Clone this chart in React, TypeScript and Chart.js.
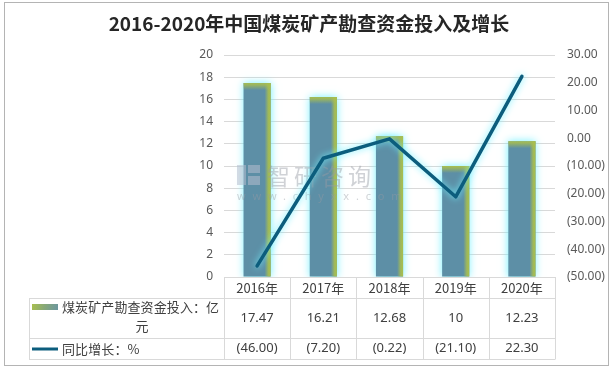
import React, { useEffect, useRef } from "react";
import { Chart, registerables } from "chart.js";
Chart.register(...registerables);

const title = "2016-2020年中国煤炭矿产勘查资金投入及增长";
const categories = ["2016年", "2017年", "2018年", "2019年", "2020年"];
const investment = [17.47, 16.21, 12.68, 10, 12.23];
const growth = [-46.0, -7.2, -0.22, -21.1, 22.3];
const investmentLabels = ["17.47", "16.21", "12.68", "10", "12.23"];
const growthLabels = ["(46.00)", "(7.20)", "(0.22)", "(21.10)", "22.30"];
const seriesNames = ["煤炭矿产勘查资金投入：亿元", "同比增长：%"];
const watermark = "智研咨询";
const watermarkUrl = "www.chyxx.com";

const BAR_COLOR = "#5d8fa6";
const GREEN = "169,191,78";
const LINE_COLOR = "#0c5d7d";
const GRID = "#d9d9d9";
const TEXT = "#404040";
const CJK = "'Noto Sans CJK SC', 'Noto Sans', sans-serif";
const NUM = "'Noto Sans', 'Open Sans', sans-serif";

const fmtGrowth = (v: number) =>
  v < 0 ? `(${Math.abs(v).toFixed(2)})` : v.toFixed(2);

const drawWatermark = (ctx: CanvasRenderingContext2D) => {
  ctx.save();
  ctx.fillStyle = "rgba(180,190,205,0.55)";
  ctx.fillRect(237, 165, 9, 20);
  ctx.fillRect(248, 165, 12, 8);
  ctx.fillRect(248, 176, 12, 9);
  ctx.font = `23px ${CJK}`;
  ctx.textAlign = "left";
  ctx.textBaseline = "middle";
  ctx.fillStyle = "rgba(150,155,165,0.45)";
  (ctx as any).letterSpacing = "4px";
  ctx.fillText(watermark, 267, 176);
  ctx.font = `11px ${NUM}`;
  (ctx as any).letterSpacing = "6.8px";
  ctx.fillText(watermarkUrl, 237, 197);
  (ctx as any).letterSpacing = "0px";
  ctx.restore();
};

const customPlugin = {
  id: "custom",
  beforeDatasetDraw(chart: any, args: any) {
    const ctx = chart.ctx;
    ctx.save();
    ctx.shadowColor = "rgba(110,240,255,0.95)";
    ctx.shadowBlur = args.meta.type === "bar" ? 8 : 7;
  },
  afterDatasetDraw(chart: any, args: any) {
    const ctx = chart.ctx;
    ctx.restore();
    if (args.meta.type === "bar") {
      ctx.save();
      for (const el of args.meta.data) {
        const { x, y, base, width } = el;
        const left = x - width / 2;
        const right = x + width / 2;
        const g = ctx.createLinearGradient(right - 6, 0, right, 0);
        g.addColorStop(0, `rgba(${GREEN},0)`);
        g.addColorStop(0.6, `rgba(${GREEN},0.85)`);
        g.addColorStop(1, `rgba(${GREEN},1)`);
        ctx.fillStyle = g;
        ctx.fillRect(right - 6, y, 6, base - y);
        const gt = ctx.createLinearGradient(0, y, 0, y + 7);
        gt.addColorStop(0, `rgba(${GREEN},1)`);
        gt.addColorStop(0.35, `rgba(${GREEN},0.7)`);
        gt.addColorStop(1, `rgba(${GREEN},0)`);
        ctx.fillStyle = gt;
        ctx.fillRect(left, y, width, 7);
      }
      ctx.restore();
      drawWatermark(ctx);
    }
  },
  afterDraw(chart: any) {
    const ctx = chart.ctx;
    const xs = chart.scales.x;
    const area = chart.chartArea;
    ctx.save();

    // outer border
    ctx.strokeStyle = "#b4b4b4";
    ctx.lineWidth = 1;
    ctx.strokeRect(4.5, 2.5, 604, 363);

    // title
    ctx.fillStyle = "#262626";
    ctx.font = `bold 19px ${CJK}`;
    ctx.textAlign = "center";
    ctx.textBaseline = "middle";
    ctx.fillText(title, 309, 24);

    // data table
    const n = categories.length;
    const colW = (area.right - area.left) / n;
    const top = area.bottom;
    const r1 = 298;
    const r2 = 338;
    const r3 = 359;
    const tLeft = 29;
    ctx.strokeStyle = GRID;
    ctx.lineWidth = 1;
    ctx.beginPath();
    const hl = (x1: number, x2: number, y: number) => {
      ctx.moveTo(x1, Math.round(y) + 0.5);
      ctx.lineTo(x2, Math.round(y) + 0.5);
    };
    const vl = (x: number, y1: number, y2: number) => {
      ctx.moveTo(Math.round(x) + 0.5, y1);
      ctx.lineTo(Math.round(x) + 0.5, y2);
    };
    hl(area.left, area.right, top);
    hl(tLeft, area.right, r1);
    hl(tLeft, area.right, r2);
    hl(tLeft, area.right, r3);
    vl(tLeft, r1, r3 + 0.5);
    for (let i = 0; i <= n; i++) vl(area.left + i * colW, top, r3 + 0.5);
    ctx.stroke();

    ctx.fillStyle = TEXT;
    ctx.textAlign = "center";
    ctx.textBaseline = "middle";
    for (let i = 0; i < n; i++) {
      const cx = xs.getPixelForValue(i);
      ctx.font = `13px ${CJK}`;
      ctx.fillText(categories[i], cx, (top + r1) / 2 + 1);
      ctx.font = `13px ${NUM}`;
      ctx.fillText(investmentLabels[i], cx, (r1 + r2) / 2);
      ctx.fillText(growthLabels[i], cx, (r2 + r3) / 2);
    }

    // legend keys
    const gk = ctx.createLinearGradient(32, 304, 58, 310);
    gk.addColorStop(0, `rgb(${GREEN})`);
    gk.addColorStop(0.5, "#85a77a");
    gk.addColorStop(1, "#6b96a0");
    ctx.fillStyle = gk;
    ctx.fillRect(32, 304, 26, 6);
    ctx.strokeStyle = LINE_COLOR;
    ctx.lineWidth = 3;
    ctx.beginPath();
    ctx.moveTo(32, 349);
    ctx.lineTo(58, 349);
    ctx.stroke();

    // row labels
    ctx.fillStyle = TEXT;
    ctx.font = `13px ${CJK}`;
    (ctx as any).letterSpacing = "0.1px";
    const maxW = area.left - 62 - 2;
    const lines: string[] = [];
    let cur = "";
    for (const ch of seriesNames[0]) {
      if (ctx.measureText(cur + ch).width > maxW && cur) {
        lines.push(cur);
        cur = ch;
      } else cur += ch;
    }
    if (cur) lines.push(cur);
    ctx.textAlign = "left";
    ctx.fillText(lines[0], 62, 307);
    ctx.textAlign = "center";
    for (let i = 1; i < lines.length; i++) ctx.fillText(lines[i], 142, 307 + 19 * i);
    ctx.textAlign = "left";
    ctx.fillText(seriesNames[1], 62, 349);
    (ctx as any).letterSpacing = "0px";

    ctx.restore();
  },
};

export default function App() {
  const ref = useRef<HTMLCanvasElement>(null);
  useEffect(() => {
    const chart = new Chart(ref.current!, {
      type: "bar",
      data: {
        labels: categories,
        datasets: [
          {
            type: "bar",
            label: seriesNames[0],
            data: investment,
            backgroundColor: BAR_COLOR,
            yAxisID: "y",
            order: 1,
            barPercentage: 0.41,
            categoryPercentage: 1,
          } as any,
          {
            type: "line",
            label: seriesNames[1],
            data: growth,
            borderColor: LINE_COLOR,
            borderWidth: 3.5,
            pointRadius: 0,
            tension: 0,
            yAxisID: "y1",
            order: 0,
            borderCapStyle: "round",
            borderJoinStyle: "round",
          } as any,
        ],
      },
      options: {
        responsive: false,
        animation: false,
        layout: { padding: { left: 194, right: 8, top: 55, bottom: 92 } },
        plugins: { legend: { display: false }, tooltip: { enabled: false }, title: { display: false } },
        scales: {
          x: { display: false, offset: true },
          y: {
            position: "left",
            min: 0,
            max: 20,
            ticks: { stepSize: 2, padding: 11, color: "#595959", font: { size: 12, family: NUM } },
            grid: { color: GRID, drawTicks: false },
            border: { display: false },
            afterFit: (s: any) => {
              s.width = 30;
            },
          },
          y1: {
            position: "right",
            min: -50,
            max: 30,
            ticks: {
              stepSize: 10,
              padding: 12,
              color: "#595959",
              font: { size: 12, family: NUM },
              callback: (v: any) => fmtGrowth(Number(v)),
            },
            grid: { display: false, drawTicks: false },
            border: { display: false },
            afterFit: (s: any) => {
              s.width = 50;
            },
          },
        },
      } as any,
      plugins: [customPlugin],
    });
    return () => chart.destroy();
  }, []);
  return (
    <div style={{ position: "fixed", left: 0, top: 0, width: 613, height: 369, background: "#fff" }}>
      <canvas ref={ref} width={613} height={369} style={{ display: "block" }} />
    </div>
  );
}
